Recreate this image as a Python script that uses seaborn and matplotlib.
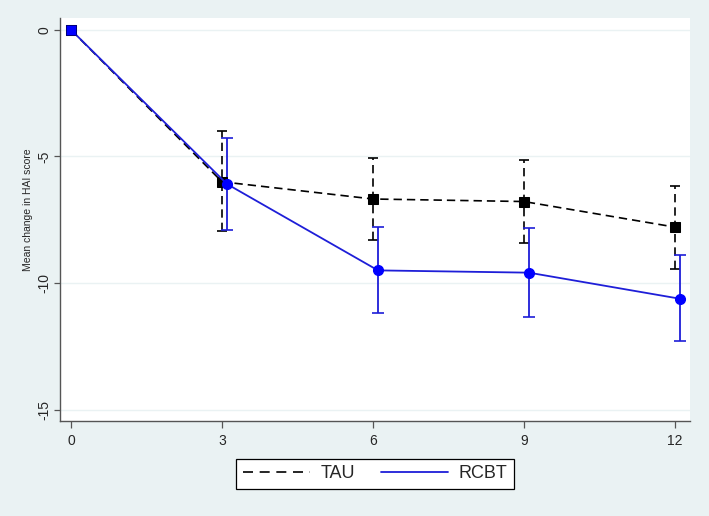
import numpy as np
import pandas as pd
import matplotlib
matplotlib.use('Agg')
import matplotlib.pyplot as plt
import seaborn as sns
from matplotlib.lines import Line2D

# months since baseline
months = [0, 3, 6, 9, 12]
rcbt_months = [0, 3.1, 6.1, 9.1, 12.1]

tau_mean = [0, -6.0, -6.68, -6.78, -7.79]
tau_low = [0, -7.94, -8.30, -8.43, -9.43]
tau_high = [0, -3.98, -5.05, -5.14, -6.17]

rcbt_mean = [0, -6.09, -9.50, -9.59, -10.62]
rcbt_low = [0, -7.91, -11.19, -11.34, -12.30]
rcbt_high = [0, -4.26, -7.77, -7.83, -8.89]

bg = '#EAF2F3'
blue_line = '#1E1ED8'
blue_mark = '#0000FF'

sns.set_style('white')
plt.rcParams['font.family'] = ['Liberation Sans', 'DejaVu Sans']

fig = plt.figure(figsize=(7.09, 5.16), dpi=100, facecolor=bg)
ax = fig.add_axes([0.0846, 0.1841, 0.8886, 0.781])
ax.set_facecolor('white')

tau_df = pd.DataFrame({'month': months, 'change': tau_mean})
rcbt_df = pd.DataFrame({'month': rcbt_months, 'change': rcbt_mean})

# error bars (skip baseline)
t = np.array(tau_mean)
eb = ax.errorbar(months[1:], tau_mean[1:],
                 yerr=[(t - np.array(tau_low))[1:], (np.array(tau_high) - t)[1:]],
                 fmt='none', ecolor='black', elinewidth=1.2, capsize=3.5, capthick=1.2, zorder=3)
eb[2][0].set_linestyle((0, (5, 3)))
r = np.array(rcbt_mean)
ax.errorbar(rcbt_months[1:], rcbt_mean[1:],
            yerr=[(r - np.array(rcbt_low))[1:], (np.array(rcbt_high) - r)[1:]],
            fmt='none', ecolor=blue_line, elinewidth=1.3, capsize=4, capthick=1.2, zorder=3)

sns.lineplot(data=tau_df, x='month', y='change', ax=ax, color='black',
             linestyle=(0, (5, 3)), linewidth=1.2, marker='s', markersize=7,
             markeredgecolor='black', markerfacecolor='black', zorder=4)
sns.lineplot(data=rcbt_df, x='month', y='change', ax=ax, color=blue_line,
             linewidth=1.3, zorder=5)
ax.plot(rcbt_months[1:], rcbt_mean[1:], 'o', color=blue_mark, markersize=7, zorder=6)
ax.plot(rcbt_months[:1], rcbt_mean[:1], 's', color=blue_mark, markersize=7,
        markeredgecolor='#000080', markeredgewidth=0.6, zorder=6)

ax.set_xlim(-0.22, 12.3)
ax.set_ylim(-15.45, 0.47)
ax.set_xticks(months)
ax.set_yticks([0, -5, -10, -15])
ax.set_yticklabels(['0', '-5', '-10', '-15'], rotation=90, va='center')
ax.tick_params(axis='x', direction='out', length=5, width=0.9, color='#555555',
               labelsize=10, pad=4, bottom=True)
ax.tick_params(axis='y', direction='out', length=4.5, width=0.9, color='#555555',
               labelsize=10, pad=1.5, left=True)
ax.grid(axis='y', color=bg, linewidth=1)
ax.grid(axis='x', visible=False)
for s in ['top', 'right']:
    ax.spines[s].set_visible(False)
for s in ['left', 'bottom']:
    ax.spines[s].set_color('#555555')
    ax.spines[s].set_linewidth(1)

ax.set_xlabel('')
ax.set_ylabel('Mean change in HAI score', fontsize=7.5)
ax.yaxis.set_label_coords(-0.043, 0.524)

handles = [Line2D([], [], color='black', linestyle=(0, (6, 4)), linewidth=1.2),
           Line2D([], [], color=blue_line, linewidth=1.3)]
leg = fig.legend(handles, ['TAU', 'RCBT'], loc='center', bbox_to_anchor=(0.529, 0.0814),
                 ncol=2, fontsize=13, frameon=True, fancybox=False, framealpha=1,
                 handlelength=3.7, columnspacing=1.45, handletextpad=0.6, borderpad=0.35,
                 borderaxespad=0)
leg.get_frame().set_edgecolor('black')
leg.get_frame().set_linewidth(0.9)
leg.get_frame().set_facecolor('white')

fig.savefig('out.png', dpi=100, facecolor=bg)
